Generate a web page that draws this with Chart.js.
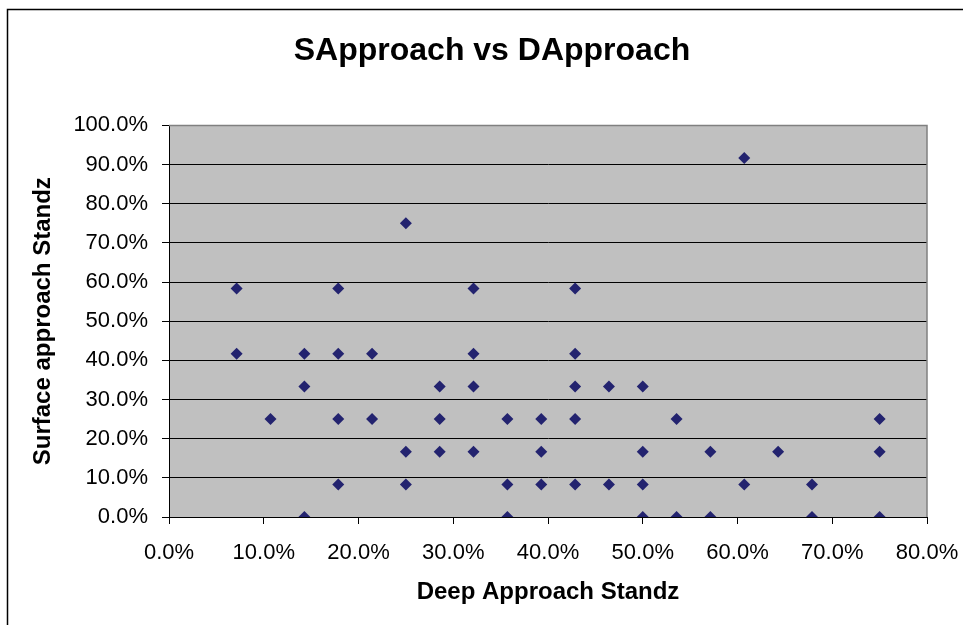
<!DOCTYPE html>
<html lang="en">
  <head>
    <meta charset="UTF-8" />
    <title>SApproach vs DApproach</title>
    <style>
      html,
      body {
        margin: 0;
        padding: 0;
        background: white;
      }

      .container {
        position: relative;
        width: 969px;
        height: 625px;
      }
    </style>
  </head>
  <body>
    <div class="container"><canvas id="chart" width="969" height="625"></canvas></div>

    <script src="https://cdn.jsdelivr.net/npm/chart.js@4.4.0/dist/chart.umd.min.js"></script>
    <script>
      const TITLE = "SApproach vs DApproach";
      const X_TITLE = "Deep Approach Standz";
      const Y_TITLE = "Surface approach Standz";

      // deep approach score (%), one entry per student
      const deep = [
        7.14, 17.86, 32.14, 42.86,
        7.14, 14.29, 17.86, 21.43, 32.14, 42.86,
        14.29, 28.57, 32.14, 42.86, 46.43, 50.0,
        10.71, 17.86, 21.43, 28.57, 35.71, 39.29, 42.86, 53.57, 75.0,
        25.0, 28.57, 32.14, 39.29, 50.0, 57.14, 64.29, 75.0,
        17.86, 25.0, 35.71, 39.29, 42.86, 46.43, 50.0, 60.71, 67.86,
        14.29, 35.71, 50.0, 53.57, 57.14, 67.86, 75.0,
        25.0, 60.71,
      ];
      // surface approach score (%), same order
      const surface = [
        58.33, 58.33, 58.33, 58.33,
        41.67, 41.67, 41.67, 41.67, 41.67, 41.67,
        33.33, 33.33, 33.33, 33.33, 33.33, 33.33,
        25.0, 25.0, 25.0, 25.0, 25.0, 25.0, 25.0, 25.0, 25.0,
        16.67, 16.67, 16.67, 16.67, 16.67, 16.67, 16.67, 16.67,
        8.33, 8.33, 8.33, 8.33, 8.33, 8.33, 8.33, 8.33, 8.33,
        0, 0, 0, 0, 0, 0, 0,
        75.0, 91.67,
      ];

      const points = deep.map((x, i) => ({ x: x, y: surface[i] }));
      const pct = (v) => v.toFixed(1) + "%";

      // grey plot background, grey top/right frame, outer chart border
      const frame = {
        id: "frame",
        beforeDraw(chart) {
          const { ctx, chartArea: a } = chart;
          ctx.save();
          ctx.fillStyle = "#c0c0c0";
          ctx.fillRect(a.left, a.top, a.right - a.left, a.bottom - a.top);
          ctx.strokeStyle = "#000";
          ctx.lineWidth = 1.5;
          ctx.beginPath();
          ctx.moveTo(7.5, 625);
          ctx.lineTo(7.5, 9.5);
          ctx.lineTo(963, 9.5);
          ctx.stroke();
          ctx.restore();
        },
        beforeDatasetsDraw(chart) {
          const { ctx, chartArea: a } = chart;
          ctx.save();
          ctx.strokeStyle = "#808080";
          ctx.lineWidth = 1.5;
          ctx.beginPath();
          ctx.moveTo(a.left, a.top);
          ctx.lineTo(a.right, a.top);
          ctx.lineTo(a.right, a.bottom);
          ctx.stroke();
          ctx.restore();
        },
      };

      Chart.defaults.font.family = "Arial, 'Liberation Sans', sans-serif";
      Chart.defaults.color = "#000";

      new Chart(document.getElementById("chart"), {
        type: "scatter",
        data: {
          datasets: [
            {
              label: "Surface vs Deep",
              data: points,
              pointStyle: "rectRot",
              pointRadius: 6,
              pointHoverRadius: 6,
              backgroundColor: "#23236f",
              borderColor: "#23236f",
              borderWidth: 0,
            },
          ],
        },
        options: {
          responsive: false,
          animation: false,
          // left padding shifts the title centre to match the original
          layout: { padding: { left: 57, top: 0, right: 42, bottom: 0 } },
          plugins: {
            legend: { display: false },
            tooltip: { enabled: false },
            title: {
              display: true,
              text: TITLE,
              font: { size: 32, weight: "bold" },
              padding: { top: 32, bottom: 55 },
            },
          },
          scales: {
            x: {
              type: "linear",
              min: 0,
              max: 80,
              afterFit: (s) => {
                s.height = 108;
                s.paddingLeft = 0;
                s.paddingRight = 0;
              },
              ticks: { stepSize: 10, callback: pct, font: { size: 22 }, padding: 16 },
              grid: { drawOnChartArea: false, tickLength: 7, tickColor: "#000" },
              border: { color: "#000", width: 1 },
              title: {
                display: true,
                text: X_TITLE,
                font: { size: 24, weight: "bold" },
                padding: { bottom: 18 },
              },
            },
            y: {
              type: "linear",
              min: 0,
              max: 100,
              afterFit: (s) => {
                s.width = 112;
              },
              ticks: { stepSize: 10, callback: pct, font: { size: 22 }, padding: 14 },
              grid: {
                color: (c) => (c.tick && c.tick.value === 100 ? "#808080" : "#000"),
                tickColor: "#000",
                tickLength: 7,
              },
              border: { color: "#000", width: 1 },
              title: {
                display: true,
                text: Y_TITLE,
                font: { size: 24, weight: "bold" },
                padding: { top: -28 },
              },
            },
          },
        },
        plugins: [frame],
      });
    </script>
  </body>
</html>
